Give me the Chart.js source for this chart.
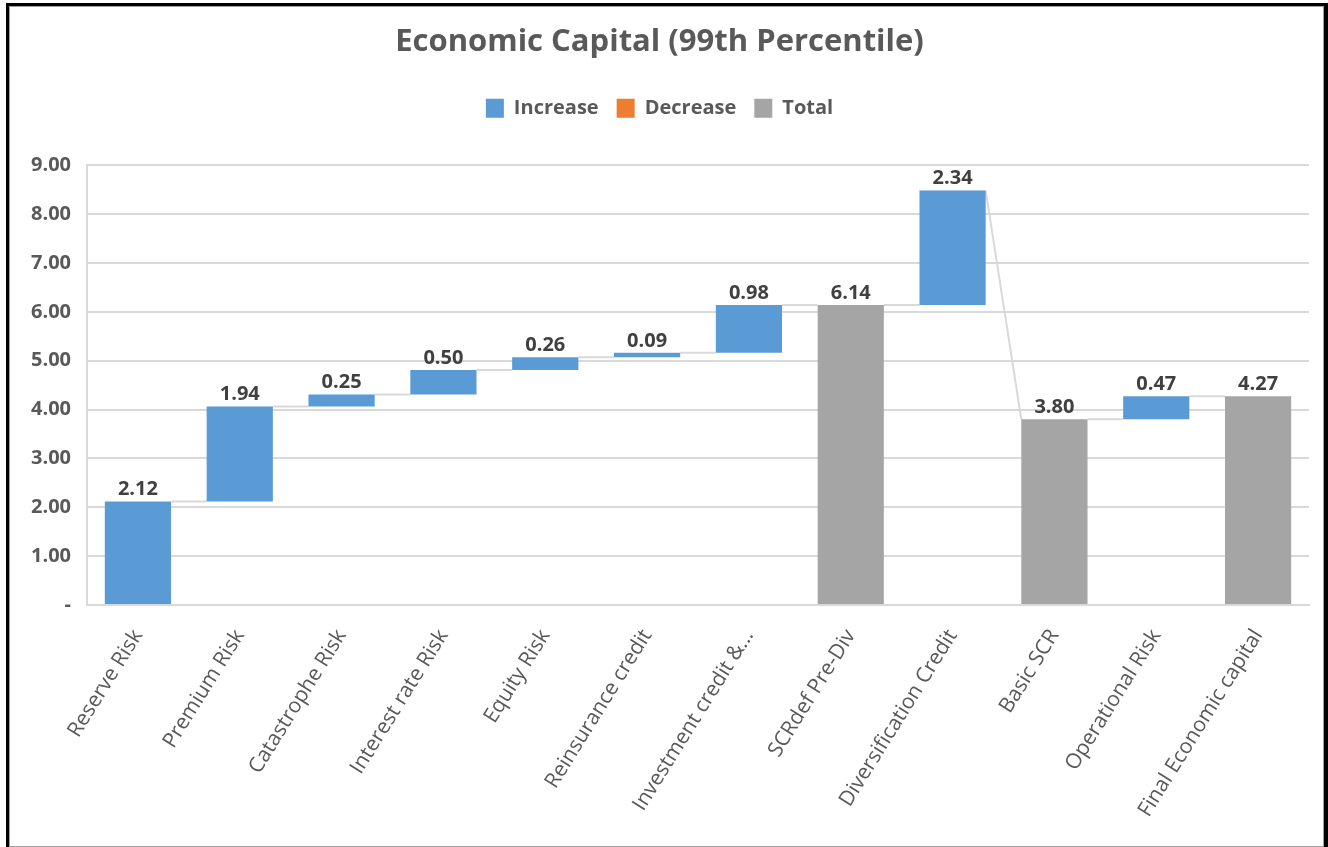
<!DOCTYPE html>
<html>
<head>
<meta charset="utf-8">
<script src="https://cdn.jsdelivr.net/npm/chart.js@4.4.0/dist/chart.umd.min.js"></script>
<style>
  html, body { margin: 0; padding: 0; background: #fff; }
  #wrap { position: absolute; left: 0; top: 0; width: 1328px; height: 847px; }
  #frame { position: absolute; left: 6px; top: 3px; width: 1322px; height: 844px; box-sizing: border-box;
           border-left: 3px solid #000; border-top: 3px solid #000; border-right: 4px solid #000; pointer-events: none; }
  #frame div { width: 100%; height: 100%; box-sizing: border-box; border: 1px solid #a0a0a0; }
</style>
</head>
<body>
<div id="wrap"><canvas id="chart"></canvas></div>
<div id="frame"><div></div></div>
<script>
const categories = ['Reserve Risk', 'Premium Risk', 'Catastrophe Risk', 'Interest rate Risk', 'Equity Risk',
  'Reinsurance credit', 'Investment credit &...', 'SCRdef Pre-Div', 'Diversification Credit', 'Basic SCR',
  'Operational Risk', 'Final Economic capital'];
const values = [2.12, 1.94, 0.25, 0.50, 0.26, 0.09, 0.98, 6.14, 2.34, 3.80, 0.47, 4.27];
const types = ['increase', 'increase', 'increase', 'increase', 'increase', 'increase', 'increase',
  'total', 'increase', 'total', 'increase', 'total'];
const seriesNames = ['Increase', 'Decrease', 'Total'];
const seriesColors = ['#5B9BD5', '#ED7D31', '#A5A5A5'];

const textColor = '#595959';
const font = '"Open Sans", "DejaVu Sans", sans-serif';

// floating ranges from running total
const starts = [];
const ends = [];
let running = 0;
values.forEach((v, i) => {
  if (types[i] === 'total') {
    starts.push(0); ends.push(v); running = v;
  } else if (types[i] === 'decrease') {
    starts.push(running); ends.push(running - v); running -= v;
  } else {
    starts.push(running); ends.push(running + v); running += v;
  }
});

const datasets = seriesNames.map((name, k) => ({
  label: name,
  data: categories.map((c, i) => types[i] === name.toLowerCase() ? [starts[i], ends[i]] : null),
  backgroundColor: seriesColors[k],
  borderWidth: 0,
  grouped: false,
  barPercentage: 0.65,
  categoryPercentage: 1
}));

function barAt(chart, i) {
  const k = seriesNames.findIndex(n => n.toLowerCase() === types[i]);
  return chart.getDatasetMeta(k).data[i];
}

const connectors = {
  id: 'connectors',
  beforeDatasetsDraw(chart) {
    const ctx = chart.ctx;
    const y = chart.scales.y;
    ctx.save();
    ctx.strokeStyle = '#d9d9d9';
    ctx.lineWidth = 2;
    for (let i = 0; i < categories.length - 1; i++) {
      const a = barAt(chart, i);
      const b = barAt(chart, i + 1);
      const next = types[i + 1] === 'total' ? ends[i + 1] : starts[i + 1];
      ctx.beginPath();
      ctx.moveTo(a.x + a.width / 2, y.getPixelForValue(ends[i]));
      ctx.lineTo(b.x - b.width / 2, y.getPixelForValue(next));
      ctx.stroke();
    }
    ctx.restore();
  }
};

const valueLabels = {
  id: 'valueLabels',
  afterDatasetsDraw(chart) {
    const ctx = chart.ctx;
    const y = chart.scales.y;
    ctx.save();
    ctx.fillStyle = '#404040';
    ctx.font = 'bold 20px ' + font;
    ctx.textAlign = 'center';
    ctx.textBaseline = 'bottom';
    for (let i = 0; i < categories.length; i++) {
      const b = barAt(chart, i);
      const top = y.getPixelForValue(Math.max(starts[i], ends[i]));
      ctx.fillText(values[i].toFixed(2), b.x, top - 2);
    }
    ctx.restore();
  }
};

const legendGap = {
  id: 'legendGap',
  beforeInit(chart) {
    const fit = chart.legend.fit;
    chart.legend.fit = function () {
      fit.bind(chart.legend)();
      this.height += 37;
    };
  }
};

new Chart(document.getElementById('chart'), {
  type: 'bar',
  data: { labels: categories, datasets: datasets },
  plugins: [legendGap, connectors, valueLabels],
  options: {
    responsive: true,
    maintainAspectRatio: false,
    animation: false,
    layout: { padding: { top: 10, left: 10, right: 19, bottom: 10 } },
    plugins: {
      title: {
        display: true,
        text: 'Economic Capital (99th Percentile)',
        color: textColor,
        font: { family: font, size: 31, weight: 'bold' },
        padding: { top: 14, bottom: 19 }
      },
      legend: {
        labels: {
          color: textColor,
          font: { family: font, size: 20, weight: 'bold' },
          boxWidth: 18,
          boxHeight: 19,
          padding: 18
        }
      },
      tooltip: { enabled: false }
    },
    scales: {
      x: {
        grid: { display: false },
        border: { display: true, color: '#d9d9d9', width: 2 },
        ticks: {
          color: textColor,
          font: { family: font, size: 21 },
          minRotation: 58,
          maxRotation: 58,
          autoSkip: false,
          padding: 12
        },
        afterFit(scale) { scale.height = 847 - 10 - 605; }
      },
      y: {
        min: 0,
        max: 9,
        grid: { color: '#d9d9d9', lineWidth: 2, drawTicks: false },
        border: { display: true, color: '#d9d9d9', width: 2 },
        ticks: {
          stepSize: 1,
          color: textColor,
          font: { family: font, size: 20, weight: 'bold' },
          padding: 16,
          callback: v => v === 0 ? '-' : v.toFixed(2)
        },
        afterFit(scale) { scale.width = 87 - 10; }
      }
    }
  }
});
</script>
</body>
</html>
